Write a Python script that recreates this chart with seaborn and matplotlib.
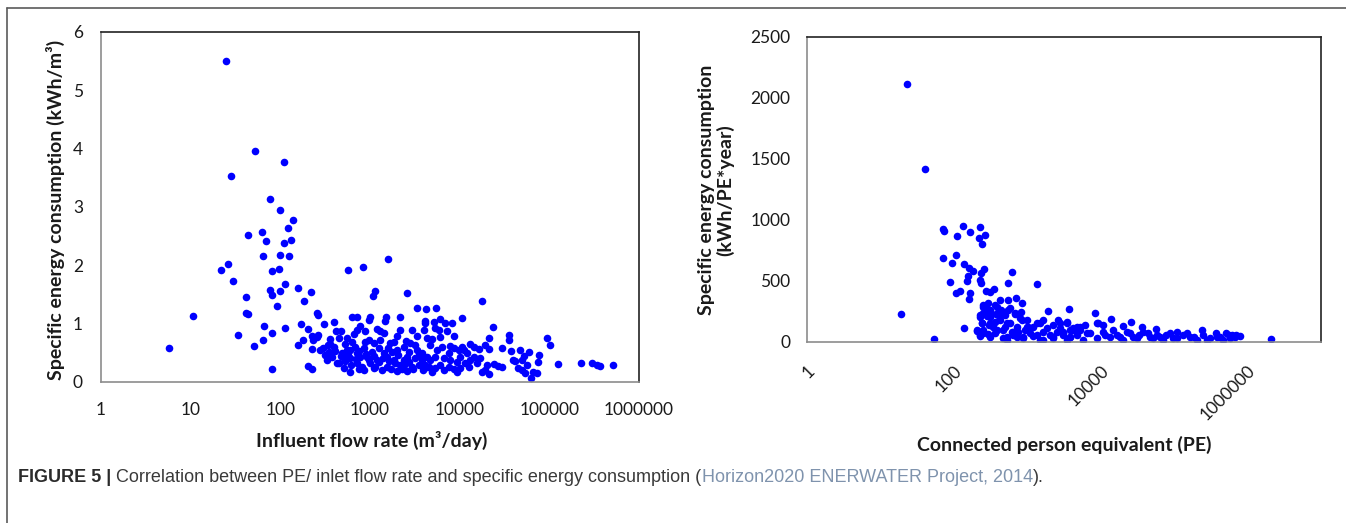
import matplotlib
matplotlib.use("Agg")
import matplotlib.pyplot as plt
import seaborn as sns
import pandas as pd
from matplotlib.lines import Line2D

# Left panel: influent flow rate (m3/day) vs specific energy consumption (kWh/m3)
flow_rate = [
    25, 52, 109, 28, 77, 100, 138, 121, 63, 44,
    70, 132, 110, 64, 100, 126, 26, 22, 97, 81,
    30, 113, 158, 77, 100, 218, 80, 41, 185, 91,
    41, 44, 10.6, 258, 260, 66, 169, 113, 80, 34,
    64, 51, 5.7, 158, 80, 206, 228, 572, 836, 1580,
    1150, 1070, 2570, 3380, 5500, 4260, 17800, 10500, 23400, 93000,
    103000, 125000, 224000, 302000, 337000, 371000, 517000, 62000, 35700, 35700,
    77000, 75000, 30000, 37000, 47000, 52500, 59000, 44500, 50000, 54000,
    66000, 73000, 39000, 41500, 21500, 21000, 24000, 27000, 30000, 21000,
    19000, 17800,
    206, 178, 225, 260, 234, 225, 298, 348, 360, 420,
    473, 450, 524, 655, 713, 778, 884, 1193, 1300, 1415,
    1995, 2173, 2933, 3335, 3960, 4315, 591, 316, 330, 450,
    507, 601, 713, 847, 923, 713, 1005, 1193, 1415, 1543,
    1831, 1995, 2173, 2579, 2933, 3335, 3795, 4315, 2810, 2367,
    1680, 1095, 963, 628, 485, 392, 360, 255, 601, 811,
    1356, 1995, 2579, 3795, 4315, 308, 398, 638, 713, 1005,
    963, 1490, 1479, 2173, 4130, 4130, 552, 575, 684, 778,
    1050, 1245, 1543, 1754, 1911, 2367, 2692, 3194, 3480, 4130,
    1095, 847, 507, 427, 376, 278,
    5115, 6070, 6910, 8200, 5340, 5820, 7210, 8550, 4900, 6070,
    19300, 4700, 6340, 7850, 8550, 9720, 11070, 12910, 14310, 16260,
    12050, 14310, 16980, 15600, 11540, 9310, 7850, 6620, 5340, 4700,
    5340, 6620, 8550, 10160, 4500, 20150, 49520, 56340, 5575, 7520,
    10160, 6070, 7520, 9310, 4900, 12580, 13130, 10600,
    340, 410, 470, 530, 620, 700, 760, 900, 980, 1120,
    1260, 1380, 1620, 1730, 2050, 2250, 2450, 2750, 3050, 3550,
    3900, 560, 880, 1300, 1850, 2500, 3200, 750, 1150, 1600,
]
energy_flow = [
    5.5, 3.96, 3.77, 3.52, 3.14, 2.95, 2.78, 2.63, 2.56, 2.51,
    2.42, 2.43, 2.38, 2.16, 2.18, 2.15, 2.01, 1.91, 1.93, 1.89,
    1.72, 1.68, 1.60, 1.57, 1.56, 1.54, 1.48, 1.45, 1.39, 1.29,
    1.17, 1.16, 1.13, 1.17, 1.14, 0.96, 0.98, 0.92, 0.83, 0.79,
    0.72, 0.61, 0.58, 0.62, 0.22, 0.27, 0.22, 1.91, 1.97, 2.10,
    1.56, 1.47, 1.52, 1.27, 1.27, 1.25, 1.38, 1.09, 0.93, 0.74,
    0.62, 0.30, 0.32, 0.32, 0.29, 0.27, 0.29, 0.06, 0.79, 0.72,
    0.45, 0.34, 0.57, 0.53, 0.54, 0.44, 0.50, 0.23, 0.19, 0.14,
    0.17, 0.14, 0.37, 0.36, 0.74, 0.56, 0.30, 0.27, 0.25, 0.13,
    0.20, 0.17,
    0.90, 0.71, 0.78, 0.79, 0.71, 0.55, 0.575, 0.51, 0.725, 0.86,
    0.87, 0.75, 0.645, 0.815, 0.885, 0.955, 0.86, 0.90, 0.875, 0.83,
    0.78, 0.885, 0.885, 0.78, 0.885, 0.74, 0.165, 0.45, 0.37, 0.31,
    0.40, 0.54, 0.485, 0.57, 0.425, 0.31, 0.31, 0.37, 0.485, 0.255,
    0.37, 0.54, 0.285, 0.425, 0.255, 0.54, 0.37, 0.255, 0.655, 0.60,
    0.655, 0.655, 0.71, 0.685, 0.485, 0.60, 0.645, 0.77, 0.40, 0.255,
    0.20, 0.185, 0.185, 0.485, 0.425, 0.99, 1.03, 1.10, 1.11, 1.11,
    1.06, 1.10, 1.045, 1.11, 1.045, 1.01, 0.54, 0.455, 0.60, 0.425,
    0.51, 0.57, 0.425, 0.51, 0.31, 0.37, 0.51, 0.40, 0.285, 0.285,
    0.225, 0.20, 0.225, 0.31, 0.425, 0.54,
    1.03, 1.07, 1.0, 1.01, 0.914, 0.885, 0.86, 0.78, 0.725, 0.76,
    0.627, 0.627, 0.60, 0.61, 0.57, 0.54, 0.54, 0.639, 0.60, 0.558,
    0.485, 0.425, 0.40, 0.31, 0.31, 0.34, 0.37, 0.40, 0.425, 0.37,
    0.225, 0.20, 0.21, 0.225, 0.255, 0.285, 0.37, 0.285, 0.54, 0.485,
    0.425, 0.285, 0.245, 0.168, 0.168, 0.255, 0.37, 0.60,
    0.62, 0.52, 0.44, 0.35, 0.29, 0.38, 0.52, 0.48, 0.37, 0.44,
    0.33, 0.41, 0.35, 0.22, 0.45, 0.22, 0.30, 0.34, 0.21, 0.46,
    0.20, 0.75, 0.68, 0.72, 0.68, 0.70, 0.62, 0.22, 0.25, 0.58,
]

# Right panel: connected person equivalent vs specific energy consumption (kWh/PE*year)
person_eq = [
    23, 41, 19, 54, 71, 73, 135, 227, 112, 168,
    223, 264, 242, 72, 108, 94, 138, 163, 181, 258,
    232, 627, 157, 150, 90, 227, 232, 547, 1361, 109,
    121, 166, 160, 272, 311, 356, 426, 541, 697, 857,
    253, 295, 364, 253, 311, 376, 436, 583, 682, 815,
    227, 280, 240, 301, 364, 205, 227, 295, 384, 136,
    499, 525, 647, 984, 1346, 1657, 1936, 2652, 3750, 719,
    885, 1211, 1657, 2270, 3105, 3829, 4720, 6460, 8390, 8850,
    250, 312, 385, 440, 550, 675, 525, 798, 984, 1213,
    1494, 1841, 2270, 2798, 3449, 4253, 5240, 250, 312, 473,
    647, 885, 1095, 1348, 1660, 2040, 2520, 3100, 3830, 4720,
    1494, 2270, 3449, 525,
    13720, 6130, 9310, 10890, 25700, 20400, 36300, 56900, 108700, 238300,
    381000, 521000, 714000, 793000, 2100000, 2800, 3450, 4250, 5240, 617000,
    3105, 3830, 4720, 5820, 7170, 8840, 10890, 13430, 16560, 20400,
    25160, 31000, 38200, 47100, 58100, 71600, 88300, 108800, 134000, 165100,
    203600, 251000, 309500, 381400, 470000, 580000, 678000,
    11500, 15000, 18500, 23000, 28000, 33000, 44000, 52000, 65000, 78000,
    97000, 150000, 190000, 280000, 430000, 560000,
    227, 240, 253, 281, 311, 311, 346, 364, 404, 426,
    473, 499, 583, 614, 719, 757, 841, 933, 1036, 205,
    227,
]
energy_pe = [
    2110, 1416, 224, 20, 921, 905, 951, 943, 869, 902,
    848, 875, 801, 684, 714, 643, 635, 602, 582, 596,
    566, 574, 539, 498, 492, 506, 478, 484, 470, 402,
    418, 402, 347, 418, 410, 435, 339, 339, 358, 315,
    301, 320, 301, 233, 246, 227, 260, 274, 227, 246,
    205, 211, 151, 137, 164, 90, 47, 63, 96, 110,
    123, 41, 82, 123, 151, 178, 254, 178, 265, 41,
    27, 47, 14, 41, 55, 96, 123, 69, 233, 151,
    287, 260, 287, 219, 260, 232, 151, 192, 178, 123,
    151, 110, 137, 110, 151, 96, 123, 69, 41, 27,
    55, 41, 69, 55, 82, 55, 82, 69, 41, 69,
    14, 27, 14, 14,
    183, 140, 150, 137, 159, 129, 118, 104, 77, 96,
    69, 69, 55, 47, 22, 150, 164, 110, 96, 55,
    82, 41, 55, 14, 69, 28, 82, 41, 55, 14,
    69, 28, 82, 41, 55, 14, 69, 28, 55, 41,
    14, 55, 28, 41, 14, 28, 41,
    55, 96, 41, 82, 41, 55, 69, 28, 41, 55,
    28, 69, 41, 14, 41, 55,
    219, 151, 96, 260, 205, 151, 123, 69, 219, 178,
    96, 219, 151, 82, 123, 82, 178, 96, 123, 96,
    55,
]

flow_ticks = [1, 10, 100, 1000, 10000, 100000, 1000000]
flow_energy_ticks = [0, 1, 2, 3, 4, 5, 6]
pe_ticks = [1, 100, 10000, 1000000]
pe_energy_ticks = [0, 500, 1000, 1500, 2000, 2500]

sns.set_style("white")
plt.rcParams["font.family"] = ["Lato", "DejaVu Sans"]

W, H = 1346, 523
fig = plt.figure(figsize=(W / 100, H / 100), dpi=100)
ax1 = fig.add_axes([101 / W, 1 - 381.5 / H, 538 / W, 349.5 / H])
ax2 = fig.add_axes([807 / W, 1 - 341.7 / H, 513.6 / W, 305 / H])

blue = "#0000ff"
df_flow = pd.DataFrame({"flow": flow_rate, "energy": energy_flow})
df_pe = pd.DataFrame({"pe": person_eq, "energy": energy_pe})
sns.scatterplot(data=df_flow, x="flow", y="energy", ax=ax1, color=blue,
                s=30, linewidth=0, alpha=1)
sns.scatterplot(data=df_pe, x="pe", y="energy", ax=ax2, color=blue,
                s=30, linewidth=0, alpha=1)

tick_col = "#8c8c8c"
text_col = "#1a1a1a"
label_size = 14
tick_size = 12.5

for ax in (ax1, ax2):
    ax.set_xscale("log")
    ax.minorticks_off()
    ax.spines["left"].set_color(tick_col)
    ax.spines["bottom"].set_color(tick_col)
    ax.spines["top"].set_color("#222222")
    ax.spines["right"].set_color("#222222")
    for sp in ax.spines.values():
        sp.set_linewidth(1.2)
    ax.tick_params(axis="both", direction="out", length=5, width=1.2,
                   color=tick_col, labelcolor=text_col, labelsize=tick_size)
    ax.grid(False)

# left panel axes
ax1.set_xlim(1, 1000000)
ax1.set_ylim(0, 6)
ax1.set_xticks(flow_ticks)
ax1.set_xticklabels([str(t) for t in flow_ticks])
ax1.set_yticks(flow_energy_ticks)
ax1.set_yticklabels([str(t) for t in flow_energy_ticks])
ax1.tick_params(axis="x", pad=10)
ax1.tick_params(axis="y", pad=8)
ax1.set_xlabel("Influent flow rate (m³/day)", fontsize=label_size,
               fontweight="bold", color=text_col)
ax1.set_ylabel("Specific energy consumption (kWh/m³)", fontsize=label_size,
               fontweight="bold", color=text_col)
ax1.xaxis.set_label_coords(0.504, -0.142)
ax1.yaxis.set_label_coords(-0.066, 0.491)

# right panel axes
ax2.set_xlim(1, 10000000)
ax2.set_ylim(0, 2500)
ax2.set_xticks(pe_ticks)
ax2.set_xticklabels([str(t) for t in pe_ticks], rotation=45, ha="right",
                    va="top", rotation_mode="anchor")
ax2.set_yticks(pe_energy_ticks)
ax2.set_yticklabels([str(t) for t in pe_energy_ticks])
ax2.tick_params(axis="x", pad=10)
ax2.tick_params(axis="y", pad=7)
ax2.set_xlabel("Connected person equivalent (PE)", fontsize=label_size,
               fontweight="bold", color=text_col)
ax2.set_ylabel("Specific energy consumption\n(kWh/PE*year)", fontsize=label_size,
               fontweight="bold", color=text_col, linespacing=1.1)
ax2.xaxis.set_label_coords(0.5, -0.308)
ax2.yaxis.set_label_coords(-0.141, 0.497)

# frame around the figure (top and left edges visible)
fig.add_artist(Line2D([7 / W, 1.0], [1 - 8 / H, 1 - 8 / H], color="#5a5a5a", lw=1.2))
fig.add_artist(Line2D([7 / W, 7 / W], [0.0, 1 - 8 / H], color="#5a5a5a", lw=1.2))

# caption, drawn as consecutive pieces
cap_y = 1 - 478 / H
cap_font = ["Liberation Sans", "DejaVu Sans"]
pieces = [
    ("FIGURE 5 | ", "bold", "#2b2b2b"),
    ("Correlation between PE/ inlet flow rate and specific energy consumption (", "normal", "#3a3a3a"),
    ("Horizon2020 ENERWATER Project, 2014", "normal", "#7f93ad"),
    (").", "normal", "#3a3a3a"),
]
renderer = fig.canvas.get_renderer()
x_px = 18
for txt, weight, col in pieces:
    t = fig.text(x_px / W, cap_y, txt, family=cap_font, fontsize=13,
                 fontweight=weight, color=col, va="center", ha="left")
    bb = t.get_window_extent(renderer=renderer)
    x_px = bb.x1

fig.savefig("out.png", dpi=100)
